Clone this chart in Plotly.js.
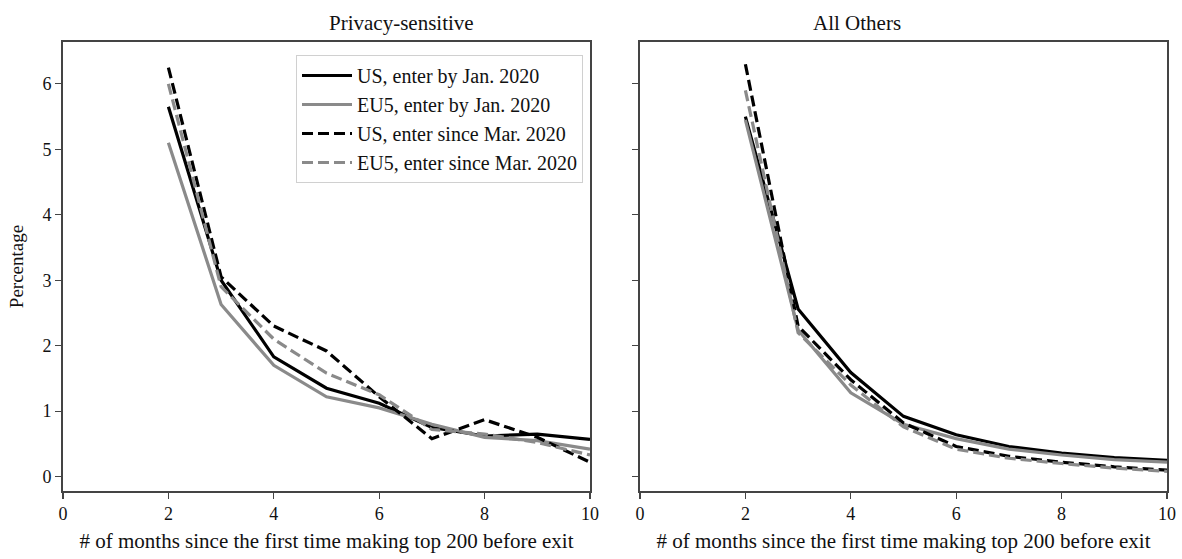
<!DOCTYPE html>
<html>
<head>
<meta charset="utf-8">
<script src="https://cdn.plot.ly/plotly-3.0.1.min.js"></script>
<style>html,body{margin:0;padding:0;background:#fff;}#chart{width:1182px;height:559px;}</style>
</head>
<body>
<div id="chart"></div>
<script>
const months = [2, 3, 4, 5, 6, 7, 8, 9, 10];
const seriesNames = ["US, enter by Jan. 2020", "EU5, enter by Jan. 2020", "US, enter since Mar. 2020", "EU5, enter since Mar. 2020"];

// Privacy-sensitive
const privUSJan  = [5.65, 3.00, 1.83, 1.35, 1.12, 0.75, 0.62, 0.65, 0.57];
const privEUJan  = [5.10, 2.63, 1.70, 1.22, 1.05, 0.80, 0.60, 0.55, 0.42];
const privUSMar  = [6.25, 3.05, 2.30, 1.92, 1.22, 0.58, 0.87, 0.60, 0.22];
const privEUMar  = [6.00, 2.90, 2.10, 1.58, 1.25, 0.72, 0.65, 0.52, 0.33];

// All Others
const othUSJan = [5.50, 2.56, 1.59, 0.92, 0.64, 0.46, 0.36, 0.29, 0.25];
const othEUJan = [5.45, 2.24, 1.28, 0.80, 0.58, 0.42, 0.33, 0.26, 0.22];
const othUSMar = [6.30, 2.30, 1.48, 0.82, 0.46, 0.31, 0.22, 0.15, 0.10];
const othEUMar = [5.90, 2.20, 1.40, 0.76, 0.42, 0.28, 0.20, 0.13, 0.08];

const styles = [
  {color: "#000000", width: 3.2, dash: "solid"},
  {color: "#8a8a8a", width: 3.2, dash: "solid"},
  {color: "#000000", width: 3.2, dash: "11px,5px"},
  {color: "#8a8a8a", width: 3.2, dash: "11px,5px"}
];

const leftData = [privUSJan, privEUJan, privUSMar, privEUMar];
const rightData = [othUSJan, othEUJan, othUSMar, othEUMar];

const traces = [];
leftData.forEach((ys, i) => {
  traces.push({x: months, y: ys, type: "scatter", mode: "lines", name: seriesNames[i],
    line: styles[i], xaxis: "x", yaxis: "y", legendgroup: "g" + i, showlegend: true});
});
rightData.forEach((ys, i) => {
  traces.push({x: months, y: ys, type: "scatter", mode: "lines", name: seriesNames[i],
    line: styles[i], xaxis: "x2", yaxis: "y2", legendgroup: "g" + i, showlegend: false});
});

const font = {family: "Liberation Serif, Times New Roman, serif", color: "#111", size: 18};
const axisCommon = {
  showline: true, mirror: true, linecolor: "#444", linewidth: 1.8,
  ticks: "outside", ticklen: 6, tickwidth: 1.2, tickcolor: "#444",
  showgrid: false, zeroline: false, tickfont: {size: 18}, automargin: false
};
const xTitle = "# of months since the first time making top 200 before exit";
const layout = {
  width: 1182, height: 559,
  margin: {l: 0, r: 0, t: 42, b: 68, autoexpand: false},
  paper_bgcolor: "#fff", plot_bgcolor: "#fff",
  font: font,
  showlegend: true,
  xaxis: Object.assign({}, axisCommon, {domain: [63/1182, 590/1182], range: [0, 10], tickvals: [0, 2, 4, 6, 8, 10],
    title: {text: xTitle, font: {size: 21}, standoff: 10}}),
  yaxis: Object.assign({}, axisCommon, {range: [-0.22, 6.64], tickvals: [0, 1, 2, 3, 4, 5, 6],
    title: {text: "Percentage", font: {size: 19}, standoff: 14}}),
  xaxis2: Object.assign({}, axisCommon, {domain: [640/1182, 1167/1182], range: [0, 10], tickvals: [0, 2, 4, 6, 8, 10], anchor: "y2",
    title: {text: xTitle, font: {size: 21}, standoff: 10}}),
  yaxis2: Object.assign({}, axisCommon, {range: [-0.22, 6.64], tickvals: [0, 1, 2, 3, 4, 5, 6], showticklabels: false, anchor: "x2"}),
  legend: {
    x: 583/1182, xanchor: "right", y: 1 - (55-42)/449, yanchor: "top", xref: "paper", yref: "paper",
    bgcolor: "rgba(255,255,255,0.9)", bordercolor: "#d0d0d0", borderwidth: 1,
    font: {size: 20, family: font.family}, traceorder: "grouped", tracegroupgap: 0,
    itemwidth: 50
  },
  annotations: [
    {text: "Privacy-sensitive", xref: "paper", yref: "paper", x: (63+590)/2/1182, y: 1, yanchor: "bottom", yshift: 5, showarrow: false, font: {size: 21}},
    {text: "All Others", xref: "paper", yref: "paper", x: (640+1167)/2/1182, y: 1, yanchor: "bottom", yshift: 5, showarrow: false, font: {size: 21}}
  ]
};
Plotly.newPlot("chart", traces, layout, {displayModeBar: false, staticPlot: true});
</script>
</body>
</html>
